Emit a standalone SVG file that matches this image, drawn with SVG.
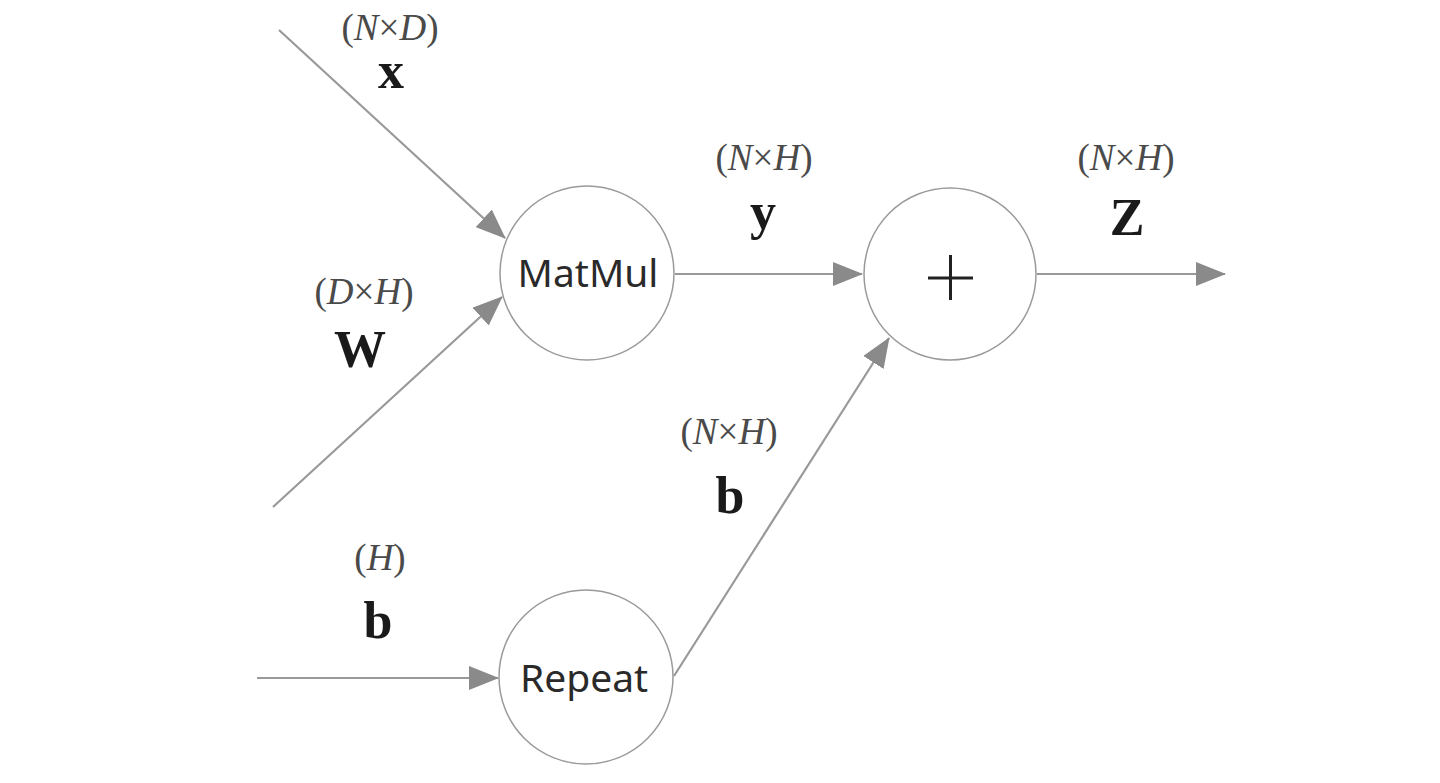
<svg xmlns="http://www.w3.org/2000/svg" width="1440" height="783" viewBox="0 0 1440 783">
<style>
.node{fill:#fff;stroke:#9a9a9a;stroke-width:1.5}
.lbl{font-family:"Noto Sans","Open Sans",sans-serif;font-size:39px;fill:#2a2a2a;text-anchor:middle}
.edge{stroke:#999;stroke-width:2.2;fill:none}
.dim{font-family:"Liberation Serif","DejaVu Serif",serif;font-size:37px;fill:#4a4a4a;text-anchor:middle}
.dim tspan.i{font-style:italic}
.var{font-family:"Liberation Serif","DejaVu Serif",serif;font-size:52px;font-weight:bold;fill:#1a1a1a;text-anchor:middle}
</style>
<defs>
<marker id="ah" markerWidth="30" markerHeight="24" refX="29" refY="12" orient="auto" markerUnits="userSpaceOnUse">
<path d="M0,0 L30,12 L0,24 Z" fill="#8a8a8a"/>
</marker>
</defs>
<g id="connectors">
<line class="edge" x1="279" y1="30" x2="505" y2="238" marker-end="url(#ah)"/>
<line class="edge" x1="273" y1="507" x2="502" y2="297" marker-end="url(#ah)"/>
<line class="edge" x1="675" y1="274" x2="862" y2="274" marker-end="url(#ah)"/>
<line class="edge" x1="1037" y1="274" x2="1225" y2="274" marker-end="url(#ah)"/>
<line class="edge" x1="257" y1="678" x2="498" y2="678" marker-end="url(#ah)"/>
<line class="edge" x1="674" y1="676" x2="889" y2="338" marker-end="url(#ah)"/>
</g>
<g id="node-matmul">
<circle class="node" cx="587" cy="273" r="87"/>
<text class="lbl" x="588" y="287">MatMul</text>
</g>
<g id="node-plus">
<circle class="node" cx="950" cy="274" r="86"/>
<line x1="928" y1="278" x2="973" y2="278" stroke="#222" stroke-width="3"/>
<line x1="950.5" y1="255" x2="950.5" y2="300" stroke="#222" stroke-width="3"/>
</g>
<g id="node-repeat">
<circle class="node" cx="586" cy="677" r="87"/>
<text class="lbl" x="584" y="692">Repeat</text>
</g>
<g id="labels">
<text class="dim" x="390" y="40">(<tspan class="i">N</tspan>×<tspan class="i">D</tspan>)</text>
<text class="var" x="391" y="88">x</text>
<text class="dim" x="764" y="170">(<tspan class="i">N</tspan>×<tspan class="i">H</tspan>)</text>
<text class="var" x="763" y="229">y</text>
<text class="dim" x="1126" y="170">(<tspan class="i">N</tspan>×<tspan class="i">H</tspan>)</text>
<text class="var" x="1127" y="235">Z</text>
<text class="dim" x="364" y="304">(<tspan class="i">D</tspan>×<tspan class="i">H</tspan>)</text>
<text class="var" x="360" y="367">W</text>
<text class="dim" x="729" y="444">(<tspan class="i">N</tspan>×<tspan class="i">H</tspan>)</text>
<text class="var" x="730" y="513">b</text>
<text class="dim" x="380" y="570">(<tspan class="i">H</tspan>)</text>
<text class="var" x="378" y="638">b</text>
</g>
</svg>
